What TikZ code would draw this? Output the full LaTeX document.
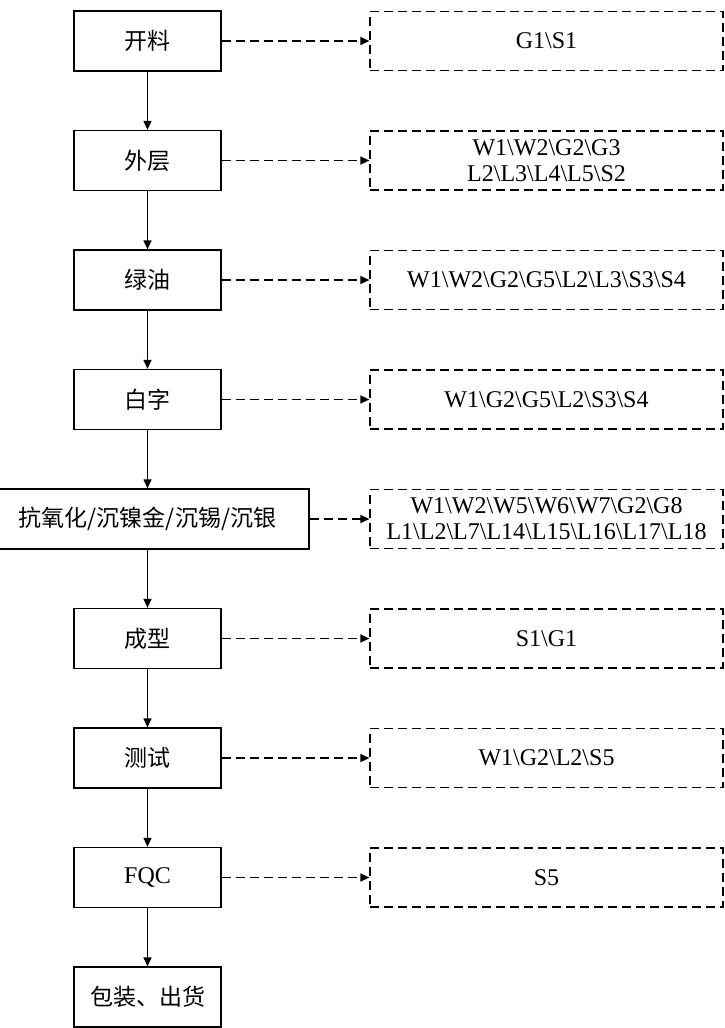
\documentclass[tikz,border=0pt]{standalone}
\usepackage{fontspec}
\setmainfont{Liberation Serif}
\newfontfamily\cjk{Noto Sans CJK SC}
\usetikzlibrary{arrows.meta}
\newcommand{\barra}{\textbackslash}

\begin{document}
\begin{tikzpicture}[x=1pt,y=-1pt,
		paso/.style={draw, line width=1.3pt, minimum width=147pt, minimum height=60pt, inner sep=0pt, font=\cjk\fontsize{23}{25}\selectfont},
		salida/.style={draw, line width=1.2pt, dash pattern=on 9pt off 5pt, minimum width=353pt, minimum height=59pt, inner sep=0pt, align=center, font=\fontsize{24}{26}\selectfont},
		flecha/.style={-{Triangle[length=9pt,width=8pt]}, line width=1.3pt},
		flechad/.style={flecha, dash pattern=on 9pt off 5pt}]
		
		\useasboundingbox (0,0) rectangle (725,1028);
		
		% Etapas
		\node[paso] (kailiao) at (147.5,41) {开料};
		\node[paso] (waiceng) at (147.5,160.5) {外层};
		\node[paso] (lvyou) at (147.5,280) {绿油};
		\node[paso] (baizi) at (147.5,399.5) {白字};
		\node[paso, minimum width=323pt] (chenjin) at (147.5,519) {抗氧化/沉镍金/沉锡/沉银};
		\node[paso] (chengxing) at (147.5,638.5) {成型};
		\node[paso] (ceshi) at (147.5,758) {测试};
		\node[paso, font=\fontsize{24}{24}\selectfont] (fqc) at (147.5,877.5) {FQC};
		\node[paso] (baozhuang) at (147.5,997) {包装、出货};
		
		% Salidas
		\node[salida] (s1) at (546.5,41) {G1\barra S1};
		\node[salida] (s2) at (546.5,160.5) {W1\barra W2\barra G2\barra G3\\L2\barra L3\barra L4\barra L5\barra S2};
		\node[salida] (s3) at (546.5,280) {W1\barra W2\barra G2\barra G5\barra L2\barra L3\barra S3\barra S4};
		\node[salida] (s4) at (546.5,399.5) {W1\barra G2\barra G5\barra L2\barra S3\barra S4};
		\node[salida] (s5) at (546.5,519) {W1\barra W2\barra W5\barra W6\barra W7\barra G2\barra G8\\L1\barra L2\barra L7\barra L14\barra L15\barra L16\barra L17\barra L18};
		\node[salida] (s6) at (546.5,638.5) {S1\barra G1};
		\node[salida] (s7) at (546.5,758) {W1\barra G2\barra L2\barra S5};
		\node[salida] (s8) at (546.5,877.5) {S5};
		
		% Flechas
		\draw[flecha] (kailiao) -- (waiceng);
		\draw[flecha] (waiceng) -- (lvyou);
		\draw[flecha] (lvyou) -- (baizi);
		\draw[flecha] (baizi) -- (chenjin);
		\draw[flecha] (chenjin) -- (chengxing);
		\draw[flecha] (chengxing) -- (ceshi);
		\draw[flecha] (ceshi) -- (fqc);
		\draw[flecha] (fqc) -- (baozhuang);
		
		% Flechas discontinuas
		\draw[flechad] (kailiao) -- (s1);
		\draw[flechad] (waiceng) -- (s2);
		\draw[flechad] (lvyou) -- (s3);
		\draw[flechad] (baizi) -- (s4);
		\draw[flechad] (chenjin) -- (s5);
		\draw[flechad] (chengxing) -- (s6);
		\draw[flechad] (ceshi) -- (s7);
		\draw[flechad] (fqc) -- (s8);
		
	\end{tikzpicture}
\end{document}
